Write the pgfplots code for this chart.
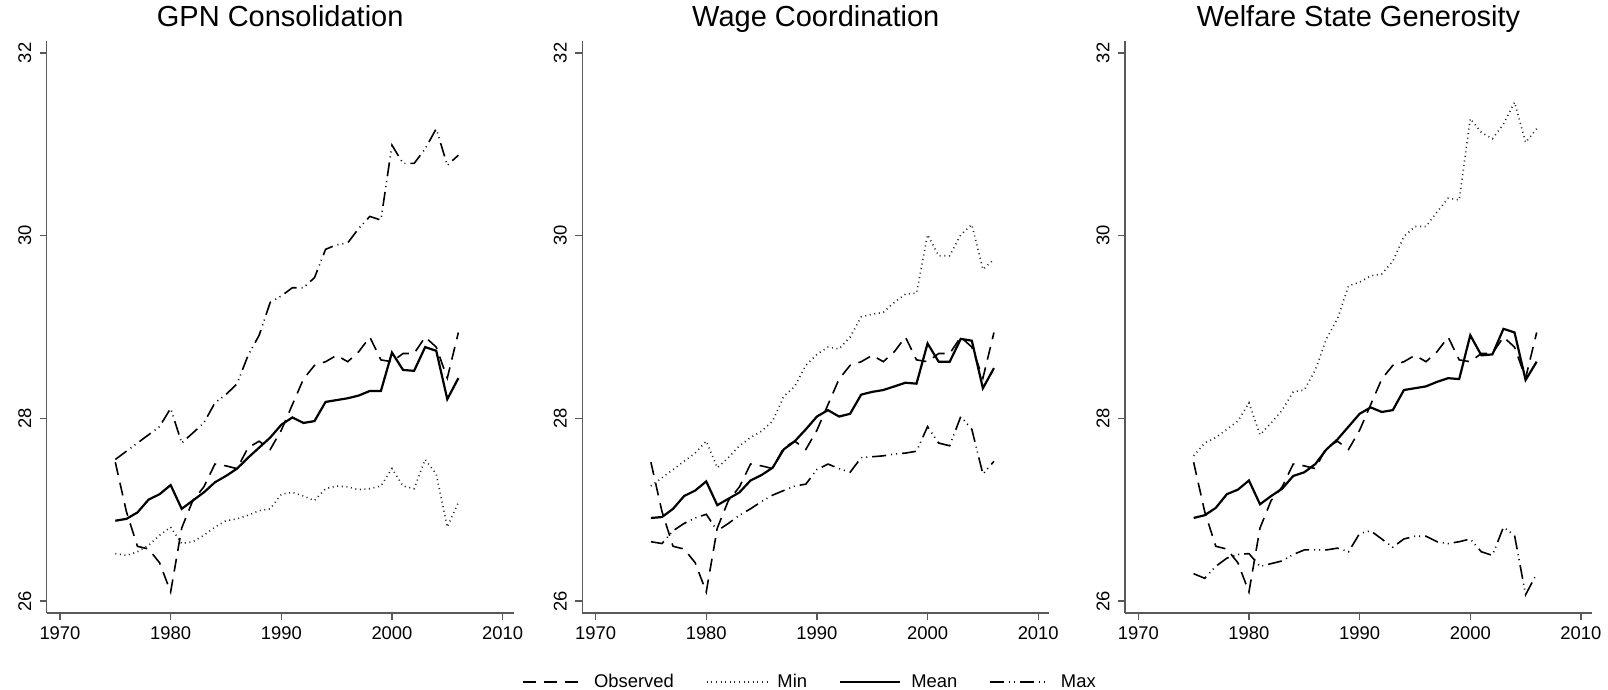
\documentclass[border=0pt]{standalone}
\usepackage{pgfplots}
\usepackage{pgfplotstable}
\usepackage{fontspec}
\setmainfont{Liberation Sans}
\pgfplotsset{compat=1.18}

\pgfplotstableread{
year obs dot mean dd
1975 27.52 26.52 26.88 27.55
1976 26.98 26.50 26.90 27.64
1977 26.60 26.54 26.97 27.73
1978 26.57 26.61 27.11 27.82
1979 26.42 26.72 27.17 27.91
1980 26.10 26.81 27.27 28.11
1981 26.80 26.63 27.01 27.73
1982 27.10 26.65 27.10 27.84
1983 27.25 26.72 27.19 27.95
1984 27.50 26.81 27.30 28.17
1985 27.48 26.88 27.37 28.26
1986 27.45 26.90 27.45 28.38
1987 27.68 26.94 27.57 28.69
1988 27.75 26.99 27.68 28.91
1989 27.66 27.01 27.79 29.27
1990 27.87 27.17 27.93 29.34
1991 28.15 27.19 28.01 29.43
1992 28.43 27.15 27.95 29.43
1993 28.58 27.10 27.97 29.54
1994 28.62 27.23 28.18 29.85
1995 28.69 27.26 28.20 29.90
1996 28.62 27.25 28.22 29.92
1997 28.73 27.22 28.25 30.08
1998 28.89 27.23 28.30 30.21
1999 28.64 27.26 28.30 30.17
2000 28.62 27.45 28.72 30.99
2001 28.71 27.26 28.53 30.79
2002 28.71 27.23 28.52 30.79
2003 28.89 27.55 28.78 30.95
2004 28.78 27.39 28.74 31.17
2005 28.44 26.81 28.21 30.77
2006 28.94 27.08 28.44 30.88
}\gpn

\pgfplotstableread{
year obs dot mean dd
1975 27.52 27.26 26.91 26.65
1976 26.98 27.35 26.92 26.63
1977 26.60 27.44 27.01 26.77
1978 26.57 27.53 27.15 26.85
1979 26.42 27.62 27.21 26.91
1980 26.10 27.75 27.31 26.95
1981 26.80 27.46 27.05 26.77
1982 27.10 27.57 27.12 26.85
1983 27.25 27.70 27.19 26.94
1984 27.50 27.79 27.32 27.01
1985 27.48 27.86 27.38 27.09
1986 27.45 27.97 27.46 27.16
1987 27.68 28.24 27.66 27.21
1988 27.75 28.35 27.75 27.26
1989 27.66 28.58 27.88 27.28
1990 27.87 28.70 28.02 27.44
1991 28.15 28.78 28.09 27.50
1992 28.43 28.76 28.02 27.45
1993 28.58 28.89 28.05 27.41
1994 28.62 29.11 28.26 27.57
1995 28.69 29.14 28.29 27.58
1996 28.62 29.16 28.31 27.59
1997 28.73 29.27 28.35 27.61
1998 28.89 29.36 28.39 27.62
1999 28.64 29.37 28.38 27.64
2000 28.62 30.01 28.82 27.91
2001 28.71 29.78 28.62 27.73
2002 28.71 29.78 28.62 27.70
2003 28.89 30.01 28.87 28.02
2004 28.78 30.12 28.85 27.88
2005 28.44 29.63 28.33 27.39
2006 28.94 29.74 28.55 27.53
}\wage

\pgfplotstableread{
year obs dot mean dd
1975 27.52 27.59 26.91 26.30
1976 26.98 27.73 26.94 26.25
1977 26.60 27.79 27.02 26.38
1978 26.57 27.88 27.17 26.47
1979 26.42 27.97 27.22 26.51
1980 26.10 28.17 27.32 26.52
1981 26.80 27.82 27.06 26.38
1982 27.10 27.95 27.15 26.41
1983 27.25 28.09 27.23 26.44
1984 27.50 28.29 27.37 26.51
1985 27.48 28.31 27.41 26.56
1986 27.45 28.53 27.50 26.56
1987 27.68 28.87 27.66 26.56
1988 27.75 29.09 27.77 26.58
1989 27.66 29.45 27.91 26.54
1990 27.87 29.49 28.05 26.74
1991 28.15 29.56 28.12 26.77
1992 28.43 29.58 28.07 26.68
1993 28.58 29.72 28.09 26.59
1994 28.62 29.99 28.31 26.68
1995 28.69 30.10 28.33 26.71
1996 28.62 30.10 28.35 26.71
1997 28.73 30.26 28.40 26.65
1998 28.89 30.41 28.44 26.63
1999 28.64 30.39 28.43 26.65
2000 28.62 31.28 28.91 26.68
2001 28.71 31.13 28.69 26.54
2002 28.71 31.06 28.70 26.50
2003 28.89 31.22 28.98 26.81
2004 28.78 31.46 28.94 26.72
2005 28.44 31.02 28.42 26.07
2006 28.94 31.17 28.62 26.30
}\welfare

\pgfplotsset{
  panel/.style={
    width=233.5pt, height=286pt, scale only axis,
    xmin=1968.8, xmax=2011, ymin=25.87, ymax=32.13,
    axis x line*=bottom, axis y line*=left,
    axis line style={black!65, line width=0.7pt, -},
    xtick={1970,1980,1990,2000,2010}, ytick={26,28,30,32},
    tick align=outside, major tick length=3.5pt,
    every tick/.style={black!65, line width=0.7pt},
    /pgf/number format/assume math mode=true,
    /pgf/number format/1000 sep={},
    ticklabel style={font=\fontsize{9.2}{11}\selectfont},
    yticklabel style={rotate=90, anchor=south, inner sep=1pt},
    xticklabel style={inner sep=1pt, yshift=-2pt},
    yticklabel shift=3pt,
    title style={at={(0.5,1)}, anchor=base, yshift=1pt, font=\fontsize{14.5}{16}\selectfont},
    clip=false,
  },
  obs/.style={black, line width=0.8pt, dash pattern=on 6.5pt off 4pt},
  dot/.style={black!85, line width=0.8pt, dash pattern=on 0.5pt off 1.8pt},
  mean/.style={black, line width=1.1pt},
  dd/.style={black, line width=0.8pt, dash pattern=on 7pt off 2.5pt on 0.5pt off 2pt on 0.5pt off 2.5pt},
}

\begin{document}
\begin{tikzpicture}
\useasboundingbox (0,0) rectangle (804pt,345pt);

\begin{axis}[panel, at={(23.35pt,38.5pt)}, anchor=south west, title={GPN Consolidation}]
\addplot[obs] table[x=year,y=obs]{\gpn};
\addplot[dot] table[x=year,y=dot]{\gpn};
\addplot[mean] table[x=year,y=mean]{\gpn};
\addplot[dd] table[x=year,y=dd]{\gpn};
\end{axis}

\begin{axis}[panel, at={(291.15pt,38.5pt)}, anchor=south west, title={Wage Coordination},
  legend columns=4,
  legend image code/.code={\draw[#1] (0pt,0pt) -- (30pt,0pt);},
  legend style={draw=none, fill=none, at={(0.49,-0.121)}, anchor=center,
    font=\fontsize{9.2}{11}\selectfont,
    /tikz/every even column/.append style={column sep=14pt},
    /tikz/every odd column/.append style={column sep=3pt}},
]
\addplot[obs] table[x=year,y=obs]{\wage};
\addlegendentry{Observed}
\addplot[dot] table[x=year,y=dot]{\wage};
\addlegendentry{Min}
\addplot[mean] table[x=year,y=mean]{\wage};
\addlegendentry{Mean}
\addplot[dd] table[x=year,y=dd]{\wage};
\addlegendentry{Max}
\end{axis}

\begin{axis}[panel, at={(562.5pt,38.5pt)}, anchor=south west, title={Welfare State Generosity}]
\addplot[obs] table[x=year,y=obs]{\welfare};
\addplot[dot] table[x=year,y=dot]{\welfare};
\addplot[mean] table[x=year,y=mean]{\welfare};
\addplot[dd] table[x=year,y=dd]{\welfare};
\end{axis}
\end{tikzpicture}
\end{document}
